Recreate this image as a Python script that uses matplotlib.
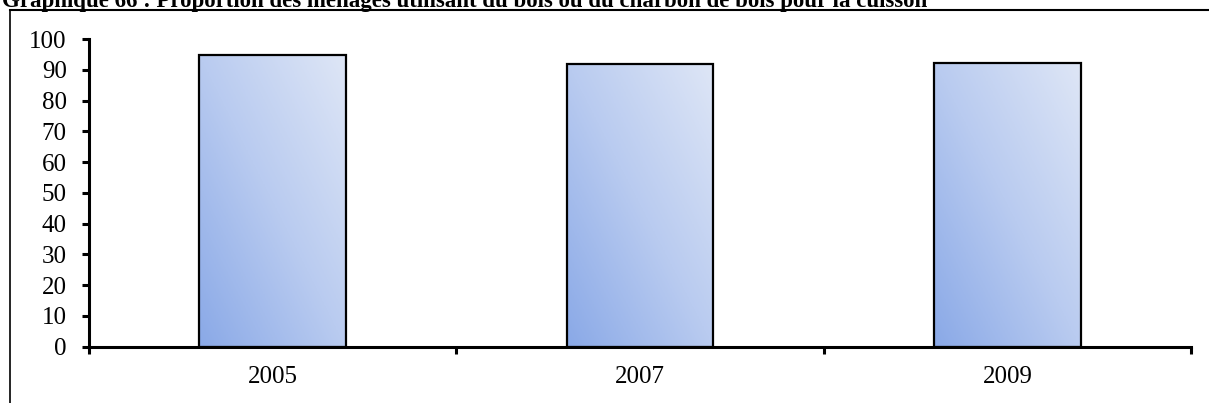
import numpy as np
import matplotlib
matplotlib.use("Agg")
import matplotlib.pyplot as plt
from matplotlib.colors import LinearSegmentedColormap
from matplotlib.lines import Line2D

# -- Data --
years = ["2005", "2007", "2009"]
shares = [94.8, 92.0, 92.3]
title = ("Graphique 66 : Proportion des ménages utilisant du bois "
         "ou du charbon de bois pour la cuisson")

plt.rcParams.update({
    "font.family": "Liberation Serif",
    "font.size": 18,
})

W, H = 1209, 403
fig = plt.figure(figsize=(W / 100, H / 100), dpi=100)

# frame around the chart (left + top edges visible)
fig.add_artist(Line2D([10 / W, 10 / W], [0, 1 - 10 / H], color="black", lw=1.2))
fig.add_artist(Line2D([10 / W, 1], [1 - 10 / H, 1 - 10 / H], color="black", lw=1.5))

# title, partly cut off by the top edge as in the source
fig.text(2 / W, 1 - 7.5 / H, title, fontsize=16.5, fontweight="bold",
         ha="left", va="baseline")

ax = fig.add_axes([89 / W, 1 - 346.7 / H, (1191 - 89) / W, (346.7 - 39) / H])

cmap = LinearSegmentedColormap.from_list("grad", ["#8AA9E7", "#B9CBF0", "#DEE6F6"])
u = np.linspace(0, 1, 60)
v = np.linspace(0, 1, 120)
uu, vv = np.meshgrid(u, v)
grad = 0.5 * (uu + vv)

x = np.arange(len(years))
bars = ax.bar(x, shares, width=0.4, color="none", edgecolor="black",
              linewidth=1.6, zorder=3)
for xi, val, bar in zip(x, shares, bars):
    im = ax.imshow(grad, cmap=cmap, origin="lower", aspect="auto",
                   extent=(xi - 0.2, xi + 0.2, 0, val), zorder=2,
                   vmin=0, vmax=1)
    im.set_clip_path(bar)

ax.set_xlim(-0.5, 2.5)
ax.set_ylim(0, 100)
ax.set_yticks(np.arange(0, 101, 10))

ax.set_xticks([-0.5, 0.5, 1.5, 2.5])
ax.set_xticklabels([])
ax.set_xticks(x, minor=True)
ax.set_xticklabels(years, minor=True)

ax.spines["top"].set_visible(False)
ax.spines["right"].set_visible(False)
ax.spines["left"].set_linewidth(2.2)
ax.spines["bottom"].set_linewidth(2.2)
ax.tick_params(axis="y", direction="out", length=5, width=2.2, pad=11)
ax.tick_params(axis="x", which="major", direction="out", length=5, width=2.2)
ax.tick_params(axis="x", which="minor", length=0, pad=14)

fig.savefig("out.png", dpi=100)
